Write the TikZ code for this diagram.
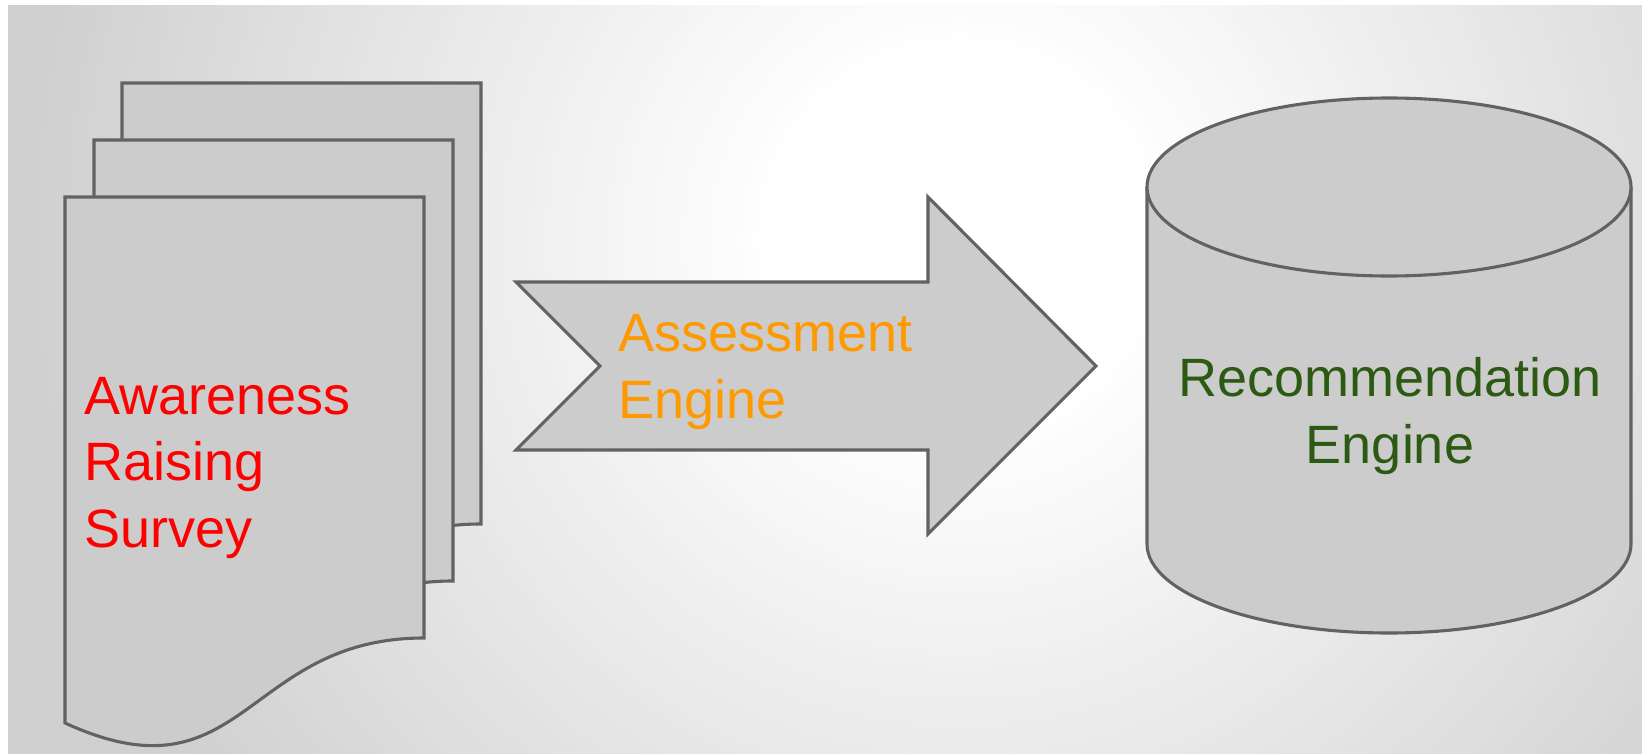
\documentclass[tikz,border=0pt]{standalone}
\usepackage{fontspec}
\setmainfont{Liberation Sans}
\definecolor{edge}{HTML}{626262}
\definecolor{shapefill}{HTML}{CCCCCC}
\definecolor{bgout}{HTML}{D0D0D0}
\definecolor{txtred}{HTML}{FF0000}
\definecolor{txtorange}{HTML}{FF9900}
\definecolor{txtgreen}{HTML}{2C5A12}
\tikzset{
  shapebox/.style={draw=edge, fill=shapefill, line width=3.1pt, line join=miter},
  bigtext/.style={inner sep=0pt, font=\fontsize{54}{66.5}\selectfont},
}
\begin{document}
\begin{tikzpicture}[x=1pt,y=-1pt]
\useasboundingbox (0,0) rectangle (1642,754);
\fill[white] (0,0) rectangle (1642,754);
\begin{scope}
  \clip (8,6) rectangle (1642,754);
  \fill[bgout] (8,6) rectangle (1642,754);
  \foreach \i in {0,...,75}{
    \pgfmathsetmacro{\rad}{1000-\i*11}
    \pgfmathsetmacro{\pct}{min(100,max(0,(\rad-190)/7.5))}
    \fill[bgout!\pct!white] (960,240) circle (\rad);
  }
\end{scope}
% stacked document sheets (back to front)
\foreach \dx/\dy in {57/-114, 29/-57, 0/0}{
  \draw[shapebox, shift={(\dx,\dy)}] (65,197) -- (424,197) -- (424,638)
     .. controls (244,638) and (244,805) .. (65,723) -- cycle;
}
\node[bigtext, text=txtred, align=left, anchor=base west] (survey) at (84,547) {Awareness\\Raising\\Survey};
% notched arrow
\draw[shapebox] (516,282) -- (928,282) -- (928,197) -- (1096,366) -- (928,534)
   -- (928,450) -- (516,450) -- (600,366) -- cycle;
\node[bigtext, text=txtorange, align=left, anchor=base west] (assess) at (618,418) {Assessment\\Engine};
% cylinder
\draw[shapebox] (1147,187) -- (1147,544) arc[start angle=180, end angle=360, x radius=242pt, y radius=89pt] -- (1631,187);
\draw[shapebox] (1389,187) ellipse [x radius=242pt, y radius=89pt];
\node[bigtext, text=txtgreen, align=center, anchor=base] (recommend) at (1390,463) {Recommendation\\Engine};
\end{tikzpicture}
\end{document}
